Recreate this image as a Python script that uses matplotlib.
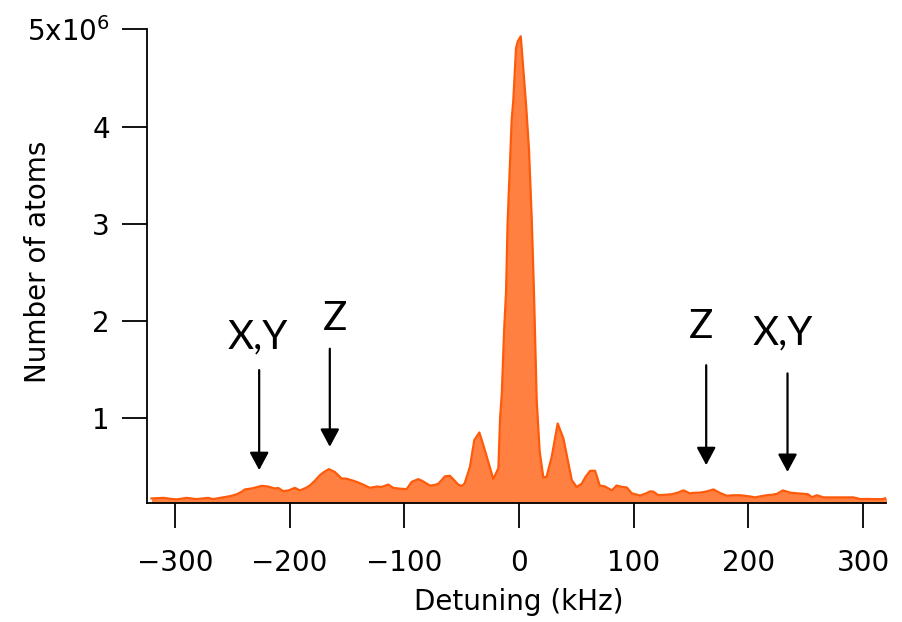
import numpy as np
import matplotlib
matplotlib.use("Agg")
import matplotlib.pyplot as plt
from matplotlib.ticker import FixedLocator, FuncFormatter

# detuning (kHz) and atom number (units of 1e6)
detuning = [-320.5, -315, -310, -305, -299, -294, -290, -285, -281, -276, -271, -267,
            -262, -255, -250, -246, -242, -239, -233, -228, -224.5, -219, -213, -210,
            -205.6, -201, -195.5, -191, -186, -182, -178, -173.6, -170, -165.8, -160.6,
            -154.7, -150.4, -146, -141.6, -136, -130, -124, -120, -114, -109.7, -104,
            -98, -93.6, -87.8, -84, -77.7, -74, -70.4, -64.6, -60.2, -57, -53, -50,
            -47.5, -42.8, -39, -34.6, -31.2, -26.8, -22.4, -18,
            -16.5, -15, -13, -11.3, -10, -8.5, -6.4, -5, -2.6, -1, 1.5, 4, 6, 8.7,
            11.1, 13, 15.4, 18, 21.2, 24, 28.5, 33.7, 38.7, 42.5, 46, 50.3, 54.7, 58,
            62, 66.3, 70.4, 75, 78, 81, 85, 90, 94, 98.3, 105.6, 110, 114.3, 117.2,
            121.5, 127, 133, 138, 143.4, 149, 153, 158, 164, 169.5, 175, 181, 187,
            192.8, 200, 206, 211, 216, 221, 225, 230, 236.5, 242, 248, 252, 255.4,
            259.7, 265.5, 271, 277, 284, 291.7, 297.6, 303, 309, 316.5, 320.8]
atoms = [0.167, 0.170, 0.173, 0.165, 0.157, 0.165, 0.173, 0.166, 0.160, 0.167, 0.173, 0.160,
         0.170, 0.184, 0.196, 0.211, 0.235, 0.260, 0.270, 0.285, 0.297, 0.290, 0.270, 0.275,
         0.242, 0.250, 0.276, 0.250, 0.275, 0.304, 0.350, 0.407, 0.440, 0.469, 0.440,
         0.373, 0.370, 0.355, 0.338, 0.310, 0.276, 0.290, 0.285, 0.310, 0.276, 0.268,
         0.263, 0.338, 0.366, 0.345, 0.300, 0.305, 0.318, 0.395, 0.400, 0.360, 0.310, 0.295,
         0.320, 0.493, 0.768, 0.847, 0.720, 0.544, 0.366, 0.480,
         1.0, 1.25, 1.9, 2.3, 3.0, 3.45, 4.07, 4.27, 4.81, 4.88, 4.93, 4.55, 4.25, 3.76,
         3.04, 2.3, 1.18, 0.65, 0.383, 0.39, 0.596, 0.94, 0.785, 0.56, 0.356, 0.285, 0.32, 0.39,
         0.452, 0.452, 0.30, 0.29, 0.27, 0.25, 0.30, 0.285, 0.28, 0.22, 0.197, 0.215, 0.24, 0.237,
         0.20, 0.205, 0.21, 0.225, 0.25, 0.22, 0.225, 0.227, 0.24, 0.26, 0.225, 0.195, 0.20,
         0.20, 0.19, 0.178, 0.19, 0.20, 0.205, 0.215, 0.25, 0.227, 0.22, 0.215, 0.21, 0.18,
         0.20, 0.178, 0.178, 0.178, 0.178, 0.178, 0.160, 0.162, 0.160, 0.160, 0.173]

# sideband labels: text, text position, arrow tail, arrow tip
sb_text = ["X,Y", "Z", "Z", "X,Y"]
sb_text_x = [-228.2, -160.6, 158.8, 230.0]
sb_text_y = [1.716, 1.902, 1.817, 1.755]
sb_arrow_x = [-226.6, -165.0, 163.2, 234.1]
sb_arrow_top = [1.49, 1.71, 1.54, 1.456]
sb_arrow_tip = [0.459, 0.699, 0.51, 0.44]

x_ticks = [-300, -200, -100, 0, 100, 200, 300]
y_ticks = [1, 2, 3, 4, 5]

x = np.array(detuning)
y = np.array(atoms) * 1e6

fig = plt.figure(figsize=(9.03, 6.22), dpi=100)
ax = fig.add_axes([0.1633, 0.1913, 0.8179, 0.7613])

ybot = 0.12e6
ax.fill_between(x, ybot, y, color="#ff8040", linewidth=0)
ax.plot(x, y, color="#ff5a0a", linewidth=1.6)

ax.set_xlim(-324, 320)
ax.set_ylim(ybot, 5e6)

for s in ["top", "right"]:
    ax.spines[s].set_visible(False)
for s in ["left", "bottom"]:
    ax.spines[s].set_linewidth(1.3)

ax.xaxis.set_major_locator(FixedLocator(x_ticks))
ax.yaxis.set_major_locator(FixedLocator([v * 1e6 for v in y_ticks]))

def yfmt(v, pos):
    n = int(round(v / 1e6))
    if n == 5:
        return r"5x10$^{6}$"
    return str(n)

ax.yaxis.set_major_formatter(FuncFormatter(yfmt))
ax.tick_params(axis="both", direction="out", length=18, width=1.3, colors="black")
ax.tick_params(axis="x", labelsize=20, pad=15)
ax.tick_params(axis="y", labelsize=20, pad=9)

ax.set_xlabel("Detuning (kHz)", fontsize=20)
ax.set_ylabel("Number of atoms", fontsize=20)
ax.xaxis.set_label_coords(0.503, -0.18)
ax.yaxis.set_label_coords(-0.129, 0.51)

# arrows marking the motional sidebands
for t, tx, ty, ax_x, a0, a1 in zip(sb_text, sb_text_x, sb_text_y,
                                     sb_arrow_x, sb_arrow_top, sb_arrow_tip):
    ax.text(tx, ty * 1e6, t, ha="center", va="baseline", fontsize=29,
            family=["Lato", "DejaVu Sans"])
    ax.annotate("", xy=(ax_x, a1 * 1e6), xytext=(ax_x, a0 * 1e6),
                arrowprops=dict(arrowstyle="-|>,head_length=1.08,head_width=0.58",
                                mutation_scale=10, lw=1.6, color="black",
                                shrinkA=0, shrinkB=0))

fig.savefig("out.png", dpi=100)
